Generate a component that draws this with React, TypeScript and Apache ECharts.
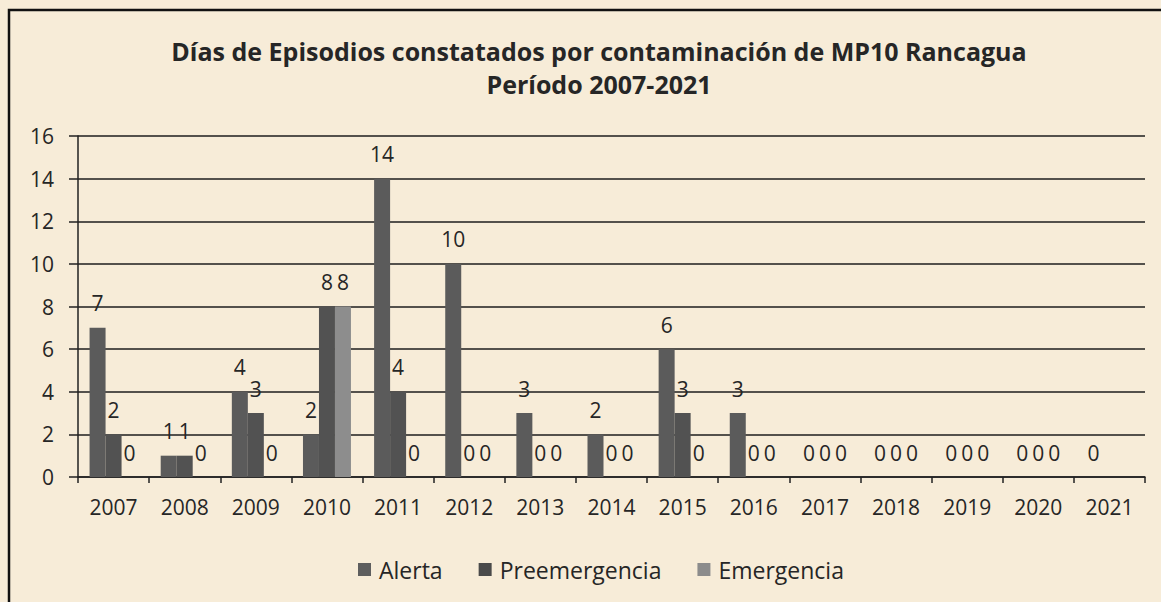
import React, { useEffect, useRef } from "react";
import * as echarts from "echarts";

const years = ["2007", "2008", "2009", "2010", "2011", "2012", "2013", "2014", "2015", "2016", "2017", "2018", "2019", "2020", "2021"];
const alerta = [7, 1, 4, 2, 14, 10, 3, 2, 6, 3, 0, 0, 0, 0, 0];
const preemergencia = [2, 1, 3, 8, 4, 0, 0, 0, 3, 0, 0, 0, 0, 0, null];
const emergencia = [0, 0, 0, 8, 0, 0, 0, 0, 0, 0, 0, 0, 0, 0, null];
const titleLines = ["Días de Episodios constatados por contaminación de MP10 Rancagua", "Período 2007-2021"];

const FONT = "'Open Sans', sans-serif";
const TXT = "#262626";

export default function App() {
  const ref = useRef<HTMLDivElement>(null);
  useEffect(() => {
    if (!ref.current) return;
    const chart = echarts.init(ref.current, null, { renderer: "svg" });
    const label = {
      show: true,
      position: "top" as const,
      distance: 14,
      color: TXT,
      fontSize: 21,
      fontFamily: FONT,
    };
    const mk = (name: string, data: (number | null)[], color: string) => ({
      name,
      type: "bar" as const,
      data,
      barWidth: 16,
      barGap: "0%",
      itemStyle: { color },
      label,
    });
    chart.setOption({
      animation: false,
      backgroundColor: "#f7ecd8",
      textStyle: { fontFamily: FONT },
      title: {
        text: titleLines.join("\n"),
        left: 594,
        top: 29,
        textAlign: "center",
        textStyle: { fontSize: 25, fontWeight: "bold", color: TXT, fontFamily: FONT, lineHeight: 33 },
      },
      legend: {
        data: [
          { name: "Alerta", itemStyle: { color: "#5e5e5e" } },
          { name: "Preemergencia", itemStyle: { color: "#4a4a4a" } },
          { name: "Emergencia", itemStyle: { color: "#8c8c8c" } },
        ],
        left: 353,
        top: 553,
        itemWidth: 13,
        itemHeight: 13,
        itemGap: 36,
        icon: "rect",
        textStyle: { fontSize: 23, color: TXT, fontFamily: FONT, padding: [0, 0, 0, 3] },
      },
      grid: { left: 78, right: 16, top: 136, bottom: 125 },
      xAxis: {
        type: "category",
        data: years,
        axisLine: { lineStyle: { color: "#222", width: 1.5 } },
        axisTick: { show: true, length: 6, lineStyle: { color: "#222", width: 1.5 } },
        axisLabel: { color: TXT, fontSize: 21, fontFamily: FONT, margin: 19 },
      },
      yAxis: {
        type: "value",
        min: 0,
        max: 16,
        interval: 2,
        axisLine: { show: true, lineStyle: { color: "#222", width: 1.5 } },
        axisTick: { show: true, length: 9, lineStyle: { color: "#222", width: 1.5 } },
        axisLabel: { color: TXT, fontSize: 21, fontFamily: FONT, margin: 24 },
        splitLine: { lineStyle: { color: "#1e1e1e", width: 1.5 } },
      },
      graphic: [
        {
          type: "rect",
          shape: { x: 9, y: 10, width: 1200, height: 700 },
          style: { fill: "none", stroke: "#111", lineWidth: 2.5 },
          silent: true,
        },
      ],
      series: [
        mk("Alerta", alerta, "#5b5b5b"),
        mk("Preemergencia", preemergencia, "#525252"),
        mk("Emergencia", emergencia, "#8d8d8d"),
      ],
    });
    return () => chart.dispose();
  }, []);
  return (
    <div style={{ position: "absolute", left: 0, top: 0, width: 1161, height: 602 }}>
      <div ref={ref} style={{ width: 1161, height: 602 }} />
    </div>
  );
}
